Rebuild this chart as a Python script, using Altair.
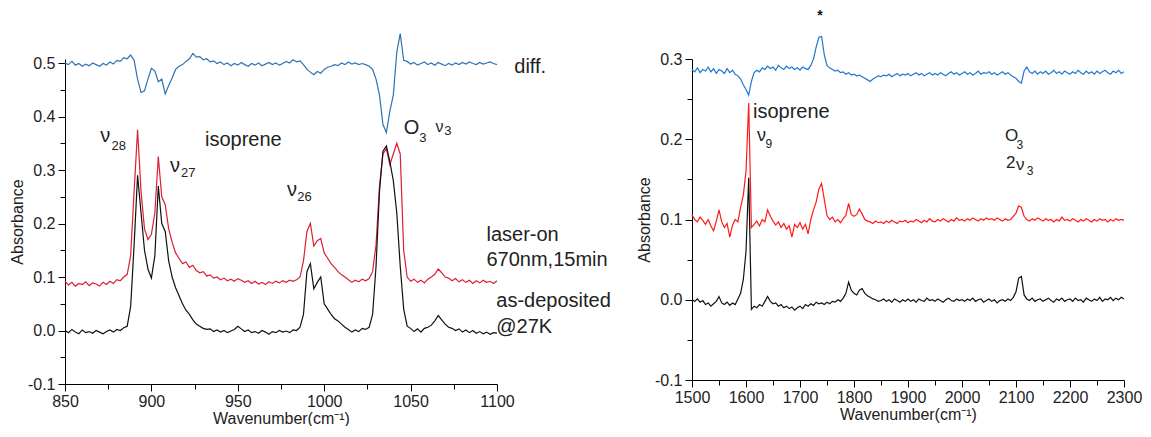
import altair as alt
import pandas as pd

# ---------------- data: left panel (850-1100 cm-1) ----------------
LEFT_WN = list(range(850, 1101, 2))
LEFT_DEPOSITED = [
    0.000, -0.004, 0.002, -0.003, -0.006, 0.001, -0.004, -0.002, -0.005, 0.000,
    -0.003, -0.006, -0.002, 0.001, -0.003, 0.002, 0.000, 0.005, 0.008, 0.045,
    0.160, 0.290, 0.220, 0.150, 0.115, 0.098, 0.140, 0.270, 0.200, 0.185,
    0.130, 0.100, 0.080, 0.065, 0.050, 0.038, 0.030, 0.020, 0.012, 0.008,
    0.004, 0.002, 0.003, -0.002, 0.001, -0.003, 0.000, -0.004, -0.001, 0.002,
    0.008, 0.003, -0.002, 0.001, -0.004, -0.002, -0.005, 0.000, -0.003, -0.007,
    -0.002, -0.004, 0.000, -0.003, -0.001, -0.004, 0.001, 0.000, 0.006, 0.030,
    0.110, 0.125, 0.078, 0.090, 0.100, 0.050, 0.040, 0.030, 0.022, 0.018,
    0.012, 0.006, 0.002, -0.003, 0.001, -0.002, 0.004, 0.002, 0.006, 0.030,
    0.120, 0.260, 0.335, 0.345, 0.315, 0.280, 0.220, 0.120, 0.040, 0.008,
    0.004, -0.002, 0.003, -0.003, 0.004, 0.006, 0.010, 0.018, 0.028, 0.020,
    0.012, 0.006, 0.004, 0.000, 0.003, -0.003, 0.001, -0.004, 0.000, -0.005,
    -0.002, -0.006, -0.003, -0.007, -0.004, -0.005,
]
LEFT_LASER = [
    0.092, 0.085, 0.090, 0.083, 0.088, 0.086, 0.091, 0.084, 0.089, 0.087,
    0.083, 0.090, 0.086, 0.092, 0.088, 0.095, 0.093, 0.100, 0.105, 0.140,
    0.260, 0.375, 0.260, 0.190, 0.170, 0.180, 0.220, 0.325, 0.250, 0.235,
    0.190, 0.165, 0.145, 0.135, 0.125, 0.128, 0.118, 0.122, 0.112, 0.108,
    0.110, 0.102, 0.104, 0.098, 0.100, 0.095, 0.098, 0.093, 0.096, 0.092,
    0.097, 0.094, 0.090, 0.093, 0.088, 0.092, 0.087, 0.090, 0.086, 0.091,
    0.088, 0.092, 0.089, 0.093, 0.090, 0.094, 0.092, 0.095, 0.100, 0.130,
    0.185, 0.200, 0.158, 0.168, 0.172, 0.145, 0.135, 0.125, 0.118, 0.110,
    0.104, 0.100, 0.095, 0.090, 0.094, 0.091, 0.096, 0.093, 0.097, 0.110,
    0.160, 0.270, 0.330, 0.340, 0.310, 0.330, 0.350, 0.330, 0.150, 0.100,
    0.092, 0.096, 0.090, 0.094, 0.089, 0.096, 0.100, 0.105, 0.115, 0.108,
    0.100, 0.098, 0.093, 0.097, 0.091, 0.095, 0.090, 0.094, 0.088, 0.093,
    0.089, 0.094, 0.090, 0.092, 0.088, 0.093,
]
LEFT_DIFF = [
    0.500, 0.497, 0.503, 0.496, 0.499, 0.494, 0.498, 0.495, 0.500, 0.497,
    0.494, 0.499, 0.496, 0.502, 0.498, 0.505, 0.503, 0.510, 0.508, 0.515,
    0.505, 0.470, 0.445, 0.448, 0.470, 0.490, 0.485, 0.465, 0.470, 0.442,
    0.458, 0.472, 0.488, 0.494, 0.497, 0.503, 0.508, 0.518, 0.511, 0.512,
    0.506, 0.508, 0.502, 0.504, 0.499, 0.502, 0.497, 0.500, 0.495, 0.499,
    0.496, 0.501, 0.497, 0.494, 0.499, 0.496, 0.500, 0.495, 0.498, 0.501,
    0.497, 0.500, 0.496, 0.499, 0.503, 0.500, 0.506, 0.502, 0.504, 0.497,
    0.488, 0.483, 0.478, 0.484, 0.481, 0.488, 0.492, 0.494, 0.497, 0.495,
    0.500, 0.497, 0.502, 0.498, 0.500, 0.497, 0.499, 0.497, 0.494, 0.488,
    0.470, 0.440, 0.385, 0.370, 0.410, 0.440, 0.520, 0.555, 0.505, 0.503,
    0.498, 0.501, 0.496, 0.499, 0.502, 0.497, 0.500, 0.496, 0.501, 0.498,
    0.495, 0.499, 0.496, 0.500, 0.497, 0.501, 0.498, 0.502, 0.499, 0.497,
    0.501, 0.498, 0.500, 0.502, 0.499, 0.497,
]

# ---------------- data: right panel (1500-2300 cm-1) ----------------
RIGHT_WN = list(range(1500, 2301, 5))
RIGHT_DEPOSITED = [
    0.000, -0.002, 0.001, -0.003, -0.001, -0.006, -0.004, -0.008, -0.005, -0.002,
    0.004, -0.004, -0.006, -0.003, -0.007, -0.004, -0.006, 0.001, 0.008, 0.025,
    0.060, 0.152, -0.012, -0.008, -0.010, -0.006, -0.008, -0.002, 0.004, -0.002,
    -0.005, -0.004, -0.008, -0.006, -0.010, -0.008, -0.011, -0.009, -0.013, -0.010,
    -0.008, -0.011, -0.006, -0.008, -0.005, -0.007, -0.003, -0.005, -0.004, -0.006,
    -0.003, -0.005, -0.002, -0.003, 0.000, -0.002, 0.002, 0.008, 0.022, 0.012,
    0.008, 0.006, 0.012, 0.014, 0.008, 0.005, 0.003, 0.001, 0.000, -0.002,
    -0.001, 0.001, -0.002, 0.000, -0.003, 0.001, -0.001, -0.003, 0.000, -0.002,
    0.001, -0.002, 0.000, -0.003, 0.001, -0.001, -0.002, 0.002, -0.001, 0.000,
    -0.002, 0.001, -0.001, -0.003, 0.000, 0.002, -0.001, -0.002, 0.001, -0.001,
    0.000, -0.002, 0.001, -0.001, 0.002, -0.002, 0.000, 0.001, -0.003, -0.001,
    0.001, -0.002, 0.000, -0.004, -0.001, 0.000, -0.002, 0.001, -0.001, 0.003,
    0.010, 0.027, 0.029, 0.006, 0.001, -0.001, 0.002, -0.002, 0.000, 0.001,
    -0.002, 0.000, 0.002, -0.001, -0.003, 0.001, -0.001, 0.002, -0.002, 0.000,
    0.001, -0.002, 0.002, -0.001, 0.000, -0.003, 0.002, 0.000, -0.002, 0.001,
    -0.001, 0.003, -0.002, 0.001, 0.000, 0.003, -0.001, 0.002, 0.000, 0.003,
    0.001,
]
RIGHT_LASER = [
    0.106, 0.100, 0.097, 0.103, 0.099, 0.094, 0.100, 0.092, 0.086, 0.098,
    0.112, 0.097, 0.090, 0.095, 0.078, 0.093, 0.100, 0.097, 0.115, 0.130,
    0.160, 0.245, 0.090, 0.094, 0.098, 0.092, 0.100, 0.097, 0.112, 0.104,
    0.098, 0.093, 0.097, 0.090, 0.095, 0.088, 0.092, 0.078, 0.094, 0.090,
    0.096, 0.088, 0.094, 0.082, 0.100, 0.112, 0.122, 0.138, 0.145, 0.125,
    0.105, 0.100, 0.103, 0.097, 0.100, 0.096, 0.101, 0.105, 0.120, 0.106,
    0.104, 0.106, 0.113, 0.107, 0.100, 0.098, 0.097, 0.095, 0.098, 0.096,
    0.097, 0.095, 0.098, 0.096, 0.099, 0.097, 0.095, 0.098, 0.097, 0.099,
    0.096, 0.098, 0.097, 0.100, 0.098, 0.096, 0.099, 0.097, 0.101, 0.098,
    0.097, 0.100, 0.098, 0.101, 0.099, 0.097, 0.100, 0.098, 0.102, 0.099,
    0.100, 0.098, 0.101, 0.099, 0.102, 0.100, 0.098, 0.101, 0.099, 0.102,
    0.100, 0.101, 0.099, 0.102, 0.100, 0.098, 0.101, 0.099, 0.100, 0.104,
    0.108, 0.117, 0.115, 0.104, 0.100, 0.098, 0.101, 0.099, 0.102, 0.100,
    0.098, 0.101, 0.099, 0.100, 0.097, 0.100, 0.098, 0.103, 0.099, 0.100,
    0.098, 0.101, 0.099, 0.097, 0.100, 0.098, 0.101, 0.099, 0.097, 0.100,
    0.098, 0.101, 0.099, 0.100, 0.097, 0.100, 0.098, 0.101, 0.099, 0.100,
    0.099,
]
RIGHT_DIFF = [
    0.287, 0.284, 0.289, 0.283, 0.287, 0.285, 0.290, 0.284, 0.288, 0.282,
    0.287, 0.285, 0.282, 0.288, 0.283, 0.286, 0.281, 0.279, 0.275, 0.268,
    0.262, 0.255, 0.272, 0.283, 0.286, 0.284, 0.289, 0.287, 0.291, 0.288,
    0.290, 0.286, 0.292, 0.289, 0.287, 0.291, 0.288, 0.290, 0.287, 0.289,
    0.286, 0.290, 0.288, 0.287, 0.292, 0.300, 0.315, 0.327, 0.328, 0.305,
    0.292, 0.289, 0.287, 0.285, 0.286, 0.283, 0.284, 0.281, 0.283, 0.280,
    0.281, 0.279, 0.280, 0.278, 0.276, 0.274, 0.272, 0.275, 0.277, 0.279,
    0.278, 0.280, 0.279, 0.281, 0.278, 0.280, 0.282, 0.279, 0.281, 0.280,
    0.282, 0.279, 0.281, 0.283, 0.280, 0.282, 0.279, 0.281, 0.283, 0.280,
    0.282, 0.280, 0.283, 0.281, 0.279, 0.282, 0.284, 0.281, 0.283, 0.280,
    0.282, 0.284, 0.281, 0.283, 0.280, 0.282, 0.285, 0.281, 0.283, 0.282,
    0.284, 0.281, 0.283, 0.280, 0.282, 0.284, 0.281, 0.283, 0.280, 0.278,
    0.276, 0.272, 0.270, 0.285, 0.290, 0.284, 0.282, 0.285, 0.281, 0.284,
    0.282, 0.285, 0.281, 0.283, 0.286, 0.282, 0.284, 0.281, 0.285, 0.283,
    0.281, 0.284, 0.282, 0.286, 0.283, 0.281, 0.285, 0.282, 0.284, 0.281,
    0.285, 0.282, 0.284, 0.286, 0.283, 0.281, 0.285, 0.283, 0.286, 0.282,
    0.284,
]

# ---------------- axis ticks ----------------
LEFT_X_TICKS = [850, 875, 900, 925, 950, 975, 1000, 1025, 1050, 1075, 1100]
LEFT_Y_TICKS = [-0.1, -0.05, 0.0, 0.05, 0.1, 0.15, 0.2, 0.25, 0.3, 0.35, 0.4, 0.45, 0.5]
RIGHT_X_TICKS = [1500, 1550, 1600, 1650, 1700, 1750, 1800, 1850, 1900, 1950,
                 2000, 2050, 2100, 2150, 2200, 2250, 2300]
RIGHT_Y_TICKS = [-0.1, -0.05, 0.0, 0.05, 0.1, 0.15, 0.2, 0.25, 0.3]

# ---------------- annotations ----------------
LEFT_LABELS = ["ν", "28", "ν", "27", "isoprene", "ν", "26", "O", "3", "ν", "3",
               "diff.", "laser-on", "670nm,15min", "as-deposited", "@27K"]
LEFT_LABEL_WN = [870.4, 876.9, 910.8, 917.2, 931.0, 978.4, 984.4, 1046.0, 1055.0,
                 1064.4, 1069.5, 1110.0, 1093.9, 1093.9, 1099.6, 1099.6]
LEFT_LABEL_AB = [0.363, 0.345, 0.308, 0.294, 0.357, 0.262, 0.249, 0.379, 0.360,
                 0.381, 0.373, 0.492, 0.179, 0.131, 0.056, 0.006]
LEFT_LABEL_FS = [20, 13, 20, 13, 20, 20, 13, 20, 13, 16, 13, 20, 20, 20, 20, 20]

RIGHT_LABELS = ["isoprene", "ν", "9", "O", "3", "2", "ν", "3"]
RIGHT_LABEL_WN = [1613.0, 1620.4, 1636.0, 2079.6, 2101.0, 2081.5, 2100.0, 2120.0]
RIGHT_LABEL_AB = [0.234, 0.204, 0.194, 0.204, 0.193, 0.171, 0.168, 0.161]
RIGHT_LABEL_FS = [20, 18, 12, 17, 12, 17, 17, 12]
STAR_WN = [1737.0]
STAR_AB = [0.354]

FONT = "Liberation Sans"
TXT = "#222222"


def make_panel(wn, deposited, laser, diff, xdom, ydom, xticks, yticks, xmod,
               colors, labels, lab_wn, lab_ab, lab_fs, w, h, extra=None):
    xenc = alt.X(
        "wn:Q",
        scale=alt.Scale(domain=xdom, nice=False, zero=False),
        axis=alt.Axis(
            values=xticks, format="d", title="Wavenumber(cm⁻¹)",
            labelExpr=f"datum.value % {xmod} == 0 ? datum.label : ''",
            labelOverlap=False, labelFlush=False, grid=False, labelPadding=2,
            tickSize={"condition": {"test": f"datum.value % {xmod} == 0", "value": 7}, "value": 5},
            titlePadding=1,
        ),
    )
    yenc = alt.Y(
        "ab:Q",
        scale=alt.Scale(domain=ydom, nice=False, zero=False),
        axis=alt.Axis(
            values=yticks, format=".1f", title="Absorbance",
            labelExpr="abs(round(datum.value*100)) % 10 == 0 ? replace(datum.label, '−', '-') : ''",
            labelOverlap=False, labelFlush=False, grid=False, labelPadding=3,
            tickSize={"condition": {"test": "abs(round(datum.value*100)) % 10 == 0", "value": 7}, "value": 5},
            titlePadding=2,
        ),
    )
    layers = []
    for vals, col in ((laser, colors[1]), (deposited, colors[0]), (diff, colors[2])):
        df = pd.DataFrame({"wn": wn, "ab": vals})
        layers.append(
            alt.Chart(df).mark_line(color=col, strokeWidth=1.2).encode(x=xenc, y=yenc)
        )
    tdf = pd.DataFrame({"wn": lab_wn, "ab": lab_ab, "t": labels, "fs": lab_fs})
    layers.append(
        alt.Chart(tdf).mark_text(align="left", baseline="middle", font=FONT, color=TXT)
        .encode(x=xenc, y=yenc, text="t:N", size=alt.Size("fs:Q", scale=None))
    )
    if extra is not None:
        sdf = pd.DataFrame({"wn": extra[0], "ab": extra[1], "t": ["*"]})
        layers.append(
            alt.Chart(sdf).mark_text(align="center", baseline="middle", font=FONT,
                                      fontSize=14, fontWeight="bold", color="#111")
            .encode(x=xenc, y=yenc, text="t:N")
        )
    return alt.layer(*layers).properties(width=w, height=h)


left = make_panel(LEFT_WN, LEFT_DEPOSITED, LEFT_LASER, LEFT_DIFF,
                  [850, 1100], [-0.1, 0.5075], LEFT_X_TICKS, LEFT_Y_TICKS, 50,
                  ["#111111", "#dc1f32", "#2f72b2"],
                  LEFT_LABELS, LEFT_LABEL_WN, LEFT_LABEL_AB, LEFT_LABEL_FS, 432, 325)
right = make_panel(RIGHT_WN, RIGHT_DEPOSITED, RIGHT_LASER, RIGHT_DIFF,
                   [1500, 2300], [-0.1, 0.3], RIGHT_X_TICKS, RIGHT_Y_TICKS, 100,
                   ["#111111", "#ff1a1a", "#1f78cf"],
                   RIGHT_LABELS, RIGHT_LABEL_WN, RIGHT_LABEL_AB, RIGHT_LABEL_FS, 432, 321,
                   extra=(STAR_WN, STAR_AB))

chart = (
    alt.hconcat(left, right, spacing=195, bounds="flush")
    .properties(padding={"left": 1, "top": 0, "right": 0, "bottom": 0})
    .configure_view(stroke=None)
    .configure_axis(
        domainColor="#000000", domainWidth=1, tickColor="#000000", tickWidth=1,
        labelFont=FONT, labelFontSize=16, labelColor=TXT,
        titleFont=FONT, titleFontSize=16, titleFontWeight="normal", titleColor=TXT,
    )
)

chart.save("out.html", embed_options={"renderer": "svg", "actions": False})
